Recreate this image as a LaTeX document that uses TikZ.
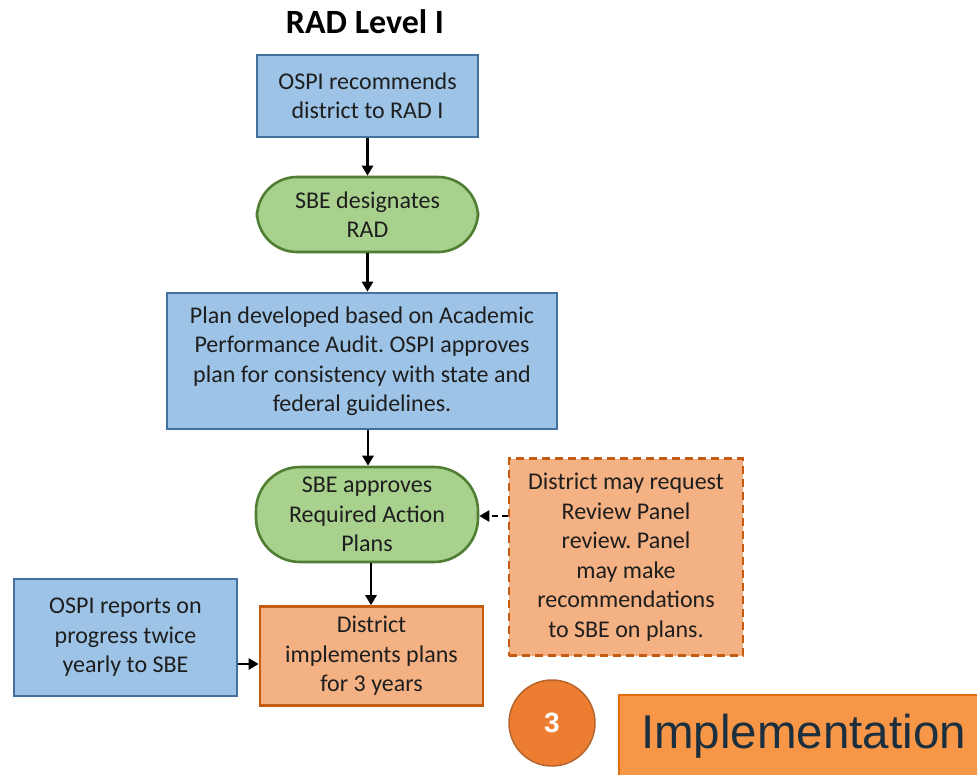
\documentclass[tikz,border=0pt]{standalone}
\usepackage{fontspec}
\setmainfont{Carlito}
\newfontfamily\arialfont{Liberation Sans}
\usetikzlibrary{arrows.meta}
\frenchspacing
\definecolor{bfill}{HTML}{9DC3E6}
\definecolor{bdraw}{HTML}{41719C}
\definecolor{gfill}{HTML}{A9D18E}
\definecolor{gdraw}{HTML}{507E32}
\definecolor{ofill}{HTML}{F4B183}
\definecolor{odraw}{HTML}{C55A11}
\definecolor{cfill}{HTML}{ED7D31}
\definecolor{cdraw}{HTML}{B5652E}
\definecolor{ifill}{HTML}{F79646}
\definecolor{idraw}{HTML}{E46C0A}
\definecolor{itext}{HTML}{1B2F3F}
\definecolor{txt}{HTML}{1E1E1E}
\tikzset{
  base/.style={align=center, inner sep=0pt, font=\fontsize{24}{29.5}\selectfont, text=txt, line width=2.6pt},
  bluebox/.style={base, draw=bdraw, fill=bfill},
  greenbox/.style={base, draw=gdraw, fill=gfill, rounded corners=40pt},
  orangebox/.style={base, draw=odraw, fill=ofill},
  dashbox/.style={base, draw=odraw, fill=ofill, dash pattern=on 8pt off 5pt},
  arr/.style={line width=2.6pt, -{Triangle[length=10pt,width=11pt]}},
  darr/.style={line width=2.4pt, dash pattern=on 6pt off 4pt, -{Triangle[length=10pt,width=11pt]}}
}
\begin{document}
\begin{tikzpicture}[x=1pt,y=-1pt]
\useasboundingbox (0,0) rectangle (977,774);
\node[font=\fontsize{34}{40}\selectfont\bfseries, text=black] (title) at (365,22) {RAD Level I};
\node[bluebox, minimum width=221pt, minimum height=82pt] (n1) at (367.5,96) {OSPI recommends\\district to RAD I};
\node[greenbox, minimum width=221pt, minimum height=75pt] (n2) at (367.5,214.5) {SBE designates\\RAD};
\node[bluebox, minimum width=390pt, minimum height=136pt] (n3) at (362,361) {Plan developed based on Academic\\Performance Audit. OSPI approves\\plan for consistency with state and\\federal guidelines.};
\node[greenbox, minimum width=222pt, minimum height=95pt, rounded corners=44pt] (n4) at (367,514.5) {SBE approves\\Required Action\\Plans};
\node[orangebox, minimum width=223pt, minimum height=99pt] (n5) at (371.5,656) {District\\implements plans\\for 3 years};
\node[bluebox, minimum width=223pt, minimum height=117pt] (n6) at (125.5,637.5) {OSPI reports on\\progress twice\\yearly to SBE};
\node[dashbox, minimum width=234pt, minimum height=197pt] (n7) at (626,557) {District may request\\Review Panel\\review. Panel\\may make\\recommendations\\to SBE on plans.};
\node[circle, draw=cdraw, fill=cfill, line width=1.5pt, minimum size=86pt, inner sep=0pt, text=white, font=\arialfont\fontsize{28}{30}\selectfont\bfseries] (c3) at (552,723) {3};
\node[draw=idraw, fill=ifill, line width=1.8pt, minimum width=370pt, minimum height=90pt, anchor=north west, inner sep=0pt] (impl) at (618,694) {};
\node[anchor=west, text=itext, font=\arialfont\fontsize{47.5}{50}\selectfont, inner sep=0pt] (impltxt) at (641,736) {Implementation};
\draw[arr] (n1.south) -- (n2.north);
\draw[arr] (n2.south) -- (n3.north -| n2.south);
\draw[arr] (n3.south -| 368,0) -- (n4.north -| 368,0);
\draw[arr] (n4.south -| 371,0) -- (n5.north -| 371,0);
\draw[arr] (n6.east |- 0,664) -- (n5.west |- 0,664);
\draw[darr] (n7.west |- 0,516) -- (n4.east |- 0,516);
\end{tikzpicture}
\end{document}
